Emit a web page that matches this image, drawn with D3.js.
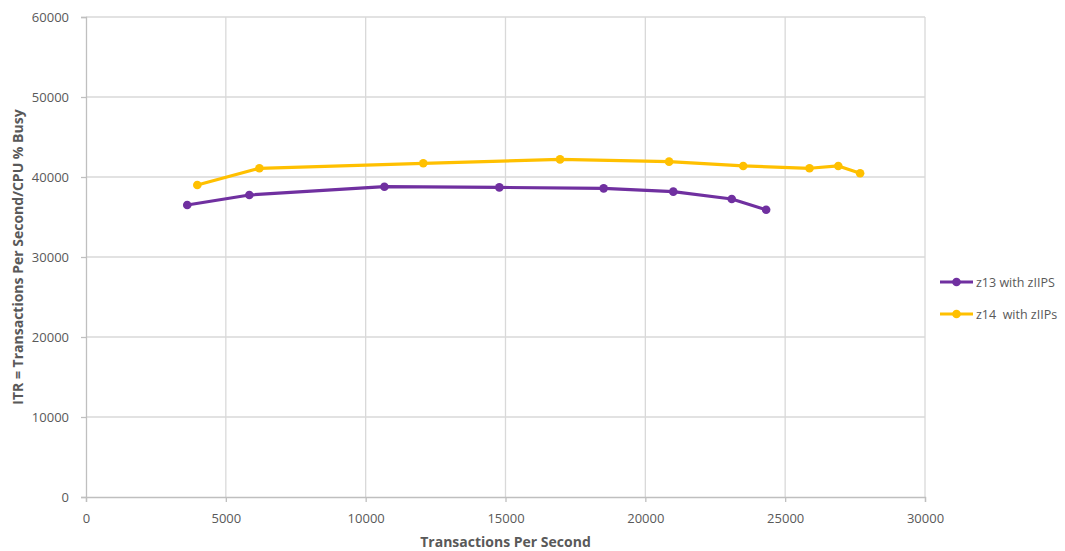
<!DOCTYPE html>
<html><head><meta charset="utf-8">
<script src="https://cdn.jsdelivr.net/npm/d3@7"></script>
<style>
body{margin:0;background:#fff;}
svg text{font-family:"Open Sans","Lato",sans-serif;}
</style></head>
<body><svg id="c" width="1065" height="551"></svg>
<script>
const seriesNames = ["z13 with zIIPS", "z14  with zIIPs"];
const z13X = [3620, 5840, 10670, 14780, 18510, 21000, 23090, 24320];
const z13Y = [36500, 37750, 38790, 38700, 38580, 38170, 37250, 35900];
const z14X = [3980, 6200, 12060, 16950, 20850, 23500, 25870, 26900, 27680];
const z14Y = [39000, 41090, 41710, 42200, 41920, 41380, 41090, 41380, 40460];
const xTicks = [0, 5000, 10000, 15000, 20000, 25000, 30000];
const yTicks = [0, 10000, 20000, 30000, 40000, 50000, 60000];
const colors = ["#7030A0", "#FFC000"];

const svg = d3.select("#c");
const L = 86, R = 925, T = 17, B = 497;
const x = d3.scaleLinear().domain([0, 30000]).range([L, R]);
const y = d3.scaleLinear().domain([0, 60000]).range([B, T]);

// gridlines
svg.append("g").selectAll("line.v").data(xTicks.slice(1)).join("line")
  .attr("x1", d => x(d)).attr("x2", d => x(d)).attr("y1", T).attr("y2", B)
  .attr("stroke", "#d9d9d9").attr("stroke-width", 1.3);
svg.append("g").selectAll("line.h").data(yTicks.slice(1)).join("line")
  .attr("x1", L).attr("x2", R).attr("y1", d => y(d)).attr("y2", d => y(d))
  .attr("stroke", "#d9d9d9").attr("stroke-width", 1.3);

// axes
const xAxis = svg.append("g").attr("transform", `translate(0,${B})`)
  .call(d3.axisBottom(x).tickValues(xTicks).tickSize(5).tickPadding(12).tickFormat(d3.format("d")));
const yAxis = svg.append("g").attr("transform", `translate(${L},0)`)
  .call(d3.axisLeft(y).tickValues(yTicks).tickSize(5).tickPadding(12).tickFormat(d3.format("d")));
[xAxis, yAxis].forEach(a => {
  a.select(".domain").attr("stroke", "#bfbfbf").attr("stroke-width", 1.3);
  a.selectAll(".tick line").attr("stroke", "#bfbfbf").attr("stroke-width", 1.3);
  a.selectAll(".tick text").attr("fill", "#595959").style("font-size", "13px")
   .style("font-family", "'Open Sans',sans-serif");
});

// axis titles
svg.append("text").attr("x", (L + R) / 2).attr("y", 547).attr("text-anchor", "middle")
  .attr("fill", "#595959").style("font-size", "14px").style("font-weight", "bold")
  .text("Transactions Per Second");
svg.append("text").attr("transform", `translate(23,${(T + B) / 2}) rotate(-90)`)
  .attr("text-anchor", "middle").attr("fill", "#595959")
  .style("font-size", "14px").style("font-weight", "bold")
  .text("ITR = Transactions Per Second/CPU % Busy");

// series
const series = [
  {name: seriesNames[0], pts: z13X.map((v, i) => [v, z13Y[i]]), color: colors[0]},
  {name: seriesNames[1], pts: z14X.map((v, i) => [v, z14Y[i]]), color: colors[1]}
];
const line = d3.line().x(d => x(d[0])).y(d => y(d[1])).curve(d3.curveLinear);
series.forEach(s => {
  svg.append("path").datum(s.pts).attr("d", line).attr("fill", "none")
    .attr("stroke", s.color).attr("stroke-width", 3.2).attr("stroke-linejoin", "round");
  svg.append("g").selectAll("circle").data(s.pts).join("circle")
    .attr("cx", d => x(d[0])).attr("cy", d => y(d[1])).attr("r", 4.3).attr("fill", s.color);
});

// legend
const legY = [282, 314];
series.forEach((s, i) => {
  const g = svg.append("g").attr("transform", `translate(940,${legY[i]})`);
  g.append("line").attr("x1", 0).attr("x2", 33).attr("y1", 0).attr("y2", 0)
    .attr("stroke", s.color).attr("stroke-width", 3.2);
  g.append("circle").attr("cx", 16.5).attr("cy", 0).attr("r", 4.3).attr("fill", s.color);
  g.append("text").attr("x", 36).attr("y", 4.5).attr("fill", "#595959")
    .style("font-size", "12.5px").style("white-space", "pre").attr("xml:space", "preserve").text(s.name);
});
</script></body></html>
